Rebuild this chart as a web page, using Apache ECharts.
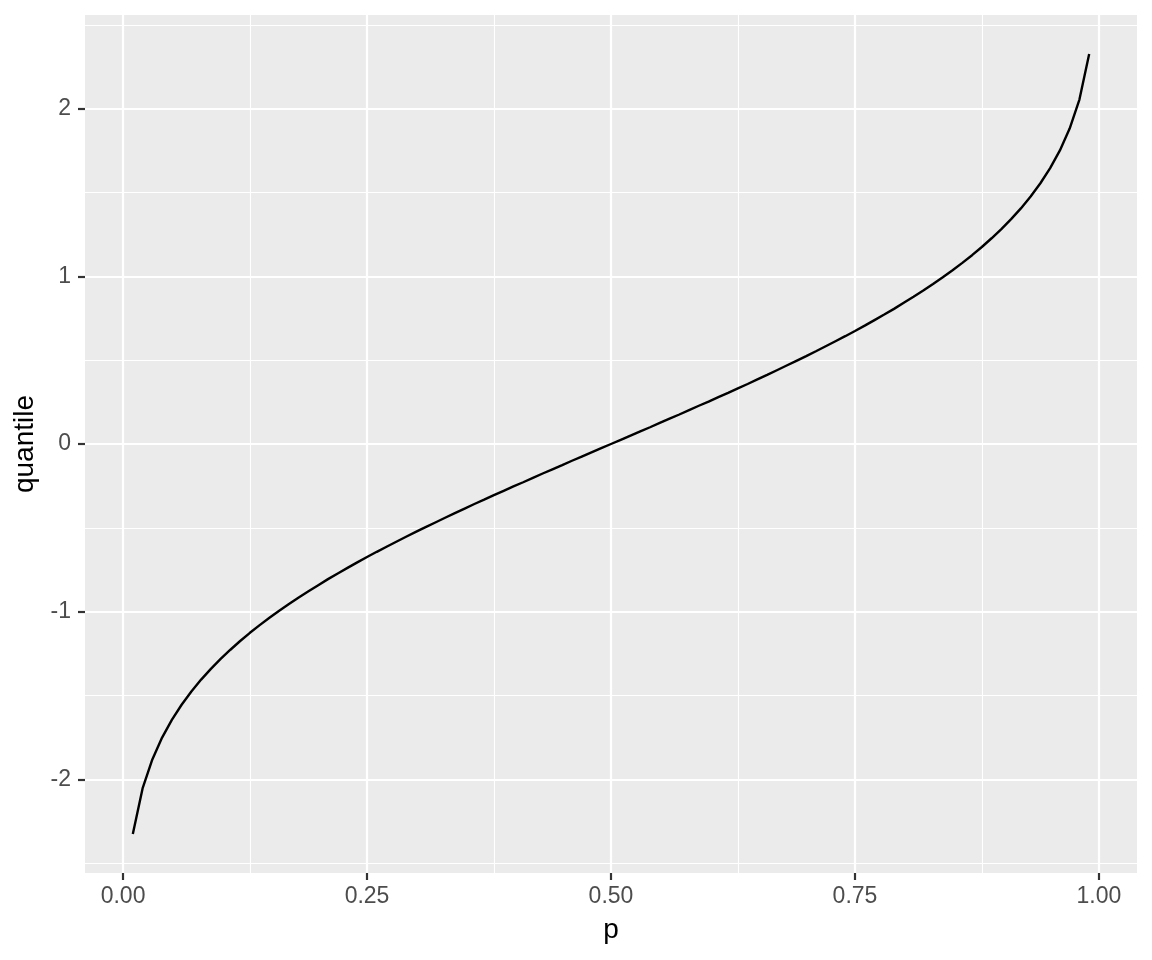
<!DOCTYPE html>
<html>
<head>
<meta charset="utf-8">
<script src="https://cdn.jsdelivr.net/npm/echarts@6/dist/echarts.min.js"></script>
<style>html,body{margin:0;padding:0;background:#fff;}#c{width:1152px;height:960px;}</style>
</head>
<body>
<div id="c"></div>
<script>
const pValues = [0.01,0.02,0.03,0.04,0.05,0.06,0.07,0.08,0.09,0.10,0.11,0.12,0.13,0.14,0.15,0.16,0.17,0.18,0.19,0.20,0.21,0.22,0.23,0.24,0.25,0.26,0.27,0.28,0.29,0.30,0.31,0.32,0.33,0.34,0.35,0.36,0.37,0.38,0.39,0.40,0.41,0.42,0.43,0.44,0.45,0.46,0.47,0.48,0.49,0.50,0.51,0.52,0.53,0.54,0.55,0.56,0.57,0.58,0.59,0.60,0.61,0.62,0.63,0.64,0.65,0.66,0.67,0.68,0.69,0.70,0.71,0.72,0.73,0.74,0.75,0.76,0.77,0.78,0.79,0.80,0.81,0.82,0.83,0.84,0.85,0.86,0.87,0.88,0.89,0.90,0.91,0.92,0.93,0.94,0.95,0.96,0.97,0.98,0.99];
const quantileValues = [-2.326,-2.054,-1.881,-1.751,-1.645,-1.555,-1.476,-1.405,-1.341,-1.282,-1.227,-1.175,-1.126,-1.080,-1.036,-0.994,-0.954,-0.915,-0.878,-0.842,-0.806,-0.772,-0.739,-0.706,-0.674,-0.643,-0.613,-0.583,-0.553,-0.524,-0.496,-0.468,-0.440,-0.412,-0.385,-0.358,-0.332,-0.305,-0.279,-0.253,-0.228,-0.202,-0.176,-0.151,-0.126,-0.100,-0.075,-0.050,-0.025,0.000,0.025,0.050,0.075,0.100,0.126,0.151,0.176,0.202,0.228,0.253,0.279,0.305,0.332,0.358,0.385,0.412,0.440,0.468,0.496,0.524,0.553,0.583,0.613,0.643,0.674,0.706,0.739,0.772,0.806,0.842,0.878,0.915,0.954,0.994,1.036,1.080,1.126,1.175,1.227,1.282,1.341,1.405,1.476,1.555,1.645,1.751,1.881,2.054,2.326];
const xMajorTicks = [0, 0.25, 0.5, 0.75, 1];
const xTickLabels = ['0.00', '0.25', '0.50', '0.75', '1.00'];
const xMinorTicks = [0.125, 0.375, 0.625, 0.875];
const yMajorTicks = [-2, -1, 0, 1, 2];
const yTickLabels = ['-2', '-1', '0', '1', '2'];
const yMinorTicks = [-2.5, -1.5, -0.5, 0.5, 1.5, 2.5];

const xRange = [Math.min(...pValues), Math.max(...pValues)];
const yRange = [Math.min(...quantileValues), Math.max(...quantileValues)];
const xPad = (xRange[1] - xRange[0]) * 0.05;
const yPad = (yRange[1] - yRange[0]) * 0.05;

const chart = echarts.init(document.getElementById('c'), null, {renderer: 'canvas'});
const fontFamily = '"Liberation Sans", Arial, Helvetica, sans-serif';

const gridLines = [];
xMinorTicks.forEach(v => gridLines.push({xAxis: v, lineStyle: {width: 1.1}}));
yMinorTicks.forEach(v => gridLines.push({yAxis: v, lineStyle: {width: 1.1}}));
xMajorTicks.forEach(v => gridLines.push({xAxis: v, lineStyle: {width: 2.2}}));
yMajorTicks.forEach(v => gridLines.push({yAxis: v, lineStyle: {width: 2.2}}));

chart.setOption({
  animation: false,
  backgroundColor: '#ffffff',
  grid: {left: 85, right: 15, top: 15, bottom: 87, show: true, backgroundColor: '#EBEBEB', borderWidth: 0},
  xAxis: {
    type: 'value',
    min: xRange[0] - xPad,
    max: xRange[1] + xPad,
    name: 'p',
    nameLocation: 'middle',
    nameGap: 43,
    nameTextStyle: {fontFamily, fontSize: 28, color: '#000000'},
    axisLine: {show: true, onZero: false, lineStyle: {color: 'rgba(0,0,0,0)', width: 0}},
    splitLine: {show: false},
    axisTick: {show: true, customValues: xMajorTicks, length: 7, lineStyle: {color: '#333333', width: 2.2}},
    axisLabel: {
      customValues: xMajorTicks,
      margin: 12,
      fontFamily, fontSize: 23, color: '#4D4D4D',
      formatter: v => { const i = xMajorTicks.indexOf(v); return i >= 0 ? xTickLabels[i] : ''; }
    }
  },
  yAxis: {
    type: 'value',
    min: yRange[0] - yPad,
    max: yRange[1] + yPad,
    name: 'quantile',
    nameLocation: 'middle',
    nameGap: 43,
    nameRotate: 90,
    nameTextStyle: {fontFamily, fontSize: 28, color: '#000000'},
    axisLine: {show: true, onZero: false, lineStyle: {color: 'rgba(0,0,0,0)', width: 0}},
    splitLine: {show: false},
    axisTick: {show: true, customValues: yMajorTicks, length: 7, lineStyle: {color: '#333333', width: 2.2}},
    axisLabel: {
      customValues: yMajorTicks,
      margin: 14,
      fontFamily, fontSize: 23, color: '#4D4D4D',
      formatter: v => { const i = yMajorTicks.indexOf(v); return i >= 0 ? yTickLabels[i] : ''; }
    }
  },
  series: [
    {
      type: 'line',
      data: [],
      z: 1,
      silent: true,
      markLine: {
        silent: true,
        symbol: ['none', 'none'],
        label: {show: false},
        animation: false,
        lineStyle: {color: '#ffffff', type: 'solid'},
        data: gridLines
      }
    },
    {
      type: 'line',
      z: 5,
      data: pValues.map((p, i) => [p, quantileValues[i]]),
      showSymbol: false,
      symbol: 'none',
      lineStyle: {color: '#000000', width: 2.4},
      silent: true
    }
  ]
});
</script>
</body>
</html>
